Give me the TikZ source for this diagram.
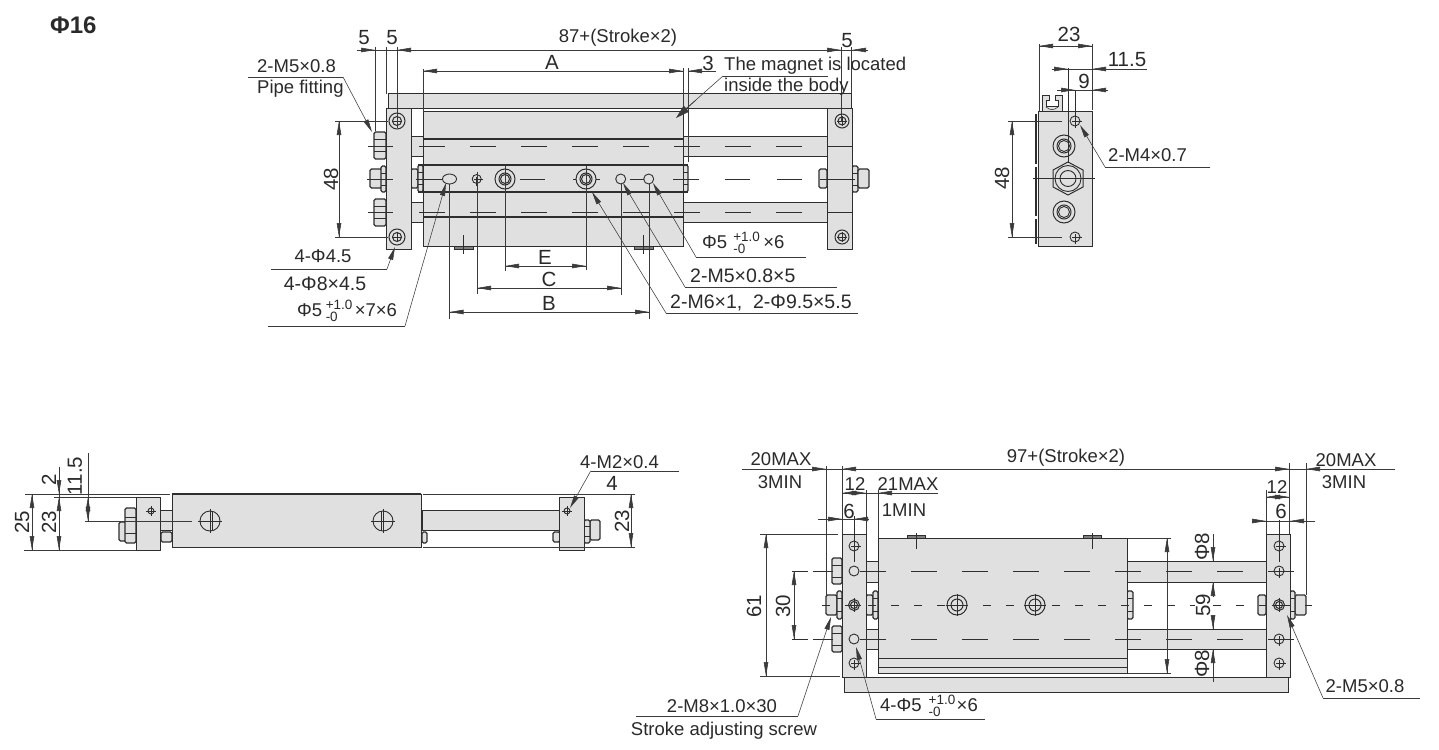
\documentclass[tikz,border=0pt]{standalone}
\usepackage{fontspec}
\setmainfont{Liberation Sans}
\usetikzlibrary{arrows.meta}
\definecolor{gf}{HTML}{DFE0DF}
\definecolor{ol}{HTML}{2E2E2E}
\definecolor{dm}{HTML}{3A3A3A}
\definecolor{tx}{HTML}{2A2A2A}
\newcommand\tolst[2]{\hspace{#1pt}\makebox[#2pt][l]{\fontsize{13.5}{14}\selectfont\rlap{\raisebox{6.5pt}{+1.0}}\raisebox{-5pt}{-0}}}
\newcommand\hcross[3]{\draw[cl] ({#1-#3},#2)--({#1+#3},#2) (#1,{#2-#3})--(#1,{#2+#3});}
\newcommand\plainhole[3]{\draw[hl] (#1,#2) circle[radius=#3pt];}
\newcommand\crosshole[3]{\draw[hl] (#1,#2) circle[radius=#3pt];\hcross{#1}{#2}{#3+2}}
\newcommand\dblhole[4]{\draw[hl,line width=1pt] (#1,#2) circle[radius=#3pt] (#1,#2) circle[radius=#4pt];}
\newcommand\hexn[4]{\draw[nut] (#1,#3) rectangle (#2,#4);\draw[cl,line width=.8pt] (#1,{#3+(#4-#3)*.27})--(#2,{#3+(#4-#3)*.27}) (#1,{#3+(#4-#3)*.73})--(#2,{#3+(#4-#3)*.73});}
\begin{document}
\begin{tikzpicture}[x=1pt,y=-1pt,
  lbl/.style={text=tx,font=\fontsize{18.5}{20}\selectfont,inner sep=0pt},
  lbw/.style={text=tx,font=\fontsize{19.5}{21}\selectfont,inner sep=0pt},
  lbn/.style={text=tx,font=\fontsize{20.5}{22}\selectfont,inner sep=0pt},
  lblr/.style={lbn,rotate=90},
  part/.style={fill=gf,draw=ol,line width=1pt},
  nut/.style={part,line width=1.1pt,rounded corners=1.5pt},
  foot/.style={fill=black!50,draw=ol,line width=.6pt},
  heavy/.style={draw=ol,line width=1.7pt},
  hl/.style={draw=ol,line width=.9pt,fill=gf},
  cl/.style={draw=ol,line width=.55pt},
  dl/.style={draw=dm,line width=.55pt},
  ar/.style={dl,-{Triangle[length=14pt,width=4.5pt]}},
  lr/.style={dl,-{Triangle[length=13pt,width=5pt]}},
  dlong/.style={cl,dash pattern=on 25.5pt off 25.5pt},
  dshort/.style={cl,dash pattern=on 8pt off 15pt}]
\useasboundingbox (0,0) rectangle (1439,749);
\fill[white] (0,0) rectangle (1439,749);
\node[lbl,font=\fontsize{24}{26}\selectfont\bfseries,anchor=west] (title) at (50,25) {Φ16};

% ===== TOP VIEW =====
\draw[part] (388,94) rectangle (851,109);
\draw[part] (411,136) rectangle (423,156);
\draw[part] (411,202) rectangle (423,222);
\draw[part] (683,136) rectangle (827,156);
\draw[part] (683,202) rectangle (827,222);
\draw[nut] (411,169) rectangle (418,188);
\hexn{374}{386}{132}{159}
\hexn{374}{386}{199}{226}
\draw[nut] (370,169) rectangle (382,188);
\hexn{381}{386}{166}{192}
\draw[nut] (819,169) rectangle (827,188);
\hexn{852}{858}{166}{192}
\draw[nut] (858,169) rectangle (869,188);
\hexn{418}{423}{165}{192}
\hexn{683}{688}{165}{192}
\draw[part] (423,112) rectangle (683,246);
\draw[heavy] (423,139)--(683,139) (418,165)--(688,165) (418,192)--(688,192) (423,217)--(683,217);
\draw[part] (386,109) rectangle (411,249);
\draw[part] (827,109) rectangle (852,249);
\draw[foot] (454,246) rectangle (473,249);
\draw[foot] (634,246) rectangle (653,249);
\draw[cl] (463,235)--(463,254) (643,235)--(643,254);
\dblhole{397}{121}{8}{4.5}\hcross{397}{121}{5}
\dblhole{397}{237}{8}{4.5}\hcross{397}{237}{5}
\dblhole{842}{121}{7}{4}\hcross{842}{121}{5}
\dblhole{842}{237}{7}{4}\hcross{842}{237}{5}
\draw[dlong] (419,146)--(806,146);
\draw[dlong] (419,212)--(806,212);
\draw[cl] (368,146)--(393,146) (368,212)--(393,212) (827,146)--(853,146) (827,212)--(853,212);
\draw[cl] (367,179)--(393,179) (416,179)--(442,179) (520,179)--(545,179) (573,179)--(600,179) (630,179)--(645,179) (673,179)--(699,179) (725,179)--(750,179) (777,179)--(802,179) (820,179)--(855,179);
\draw[hl] (449.5,179) ellipse[x radius=7pt,y radius=5pt];
\crosshole{476.7}{179}{4.5}
\dblhole{505}{179}{10}{6}\dblhole{586}{179}{10}{6}
\draw[hl,line width=1pt] (505,179) circle[radius=4.5pt] (586,179) circle[radius=4.5pt];
\plainhole{620.7}{179}{5}\plainhole{648.7}{179}{5}
% top dims
\draw[dl] (357,50)--(868,50);
\draw[ar] (357,50)--(375,50);\draw[ar] (412,50)--(397,50);
\draw[ar] (826,50)--(841,50);\draw[ar] (868,50)--(852,50);
\draw[dl] (375,47)--(375,131) (386,47)--(386,94) (397,47)--(397,128) (841,47)--(841,122) (851,47)--(851,94);
\draw[dl] (423,71)--(683,71) (423,69)--(423,112) (683,68)--(683,112) (688,68)--(688,162) (688,71)--(716,71);
\draw[ar] (438,71)--(423,71);\draw[ar] (667,71)--(683,71);\draw[ar] (703,71)--(688,71);
\node[lbl] (d87) at (618,38) {87+(Stroke×2)};
\node[lbn] (d5a) at (364,38) {5};\node[lbn] (d5b) at (392,38) {5};\node[lbn] (d5c) at (847,41) {5};
\node[lbn] (dA) at (552,62) {A};\node[lbn] (d3) at (708,63) {3};
\draw[dl] (828,76)--(723,76);
\draw[dl] (723,76)--(680,114);
\draw[dl,-{Triangle[length=14pt,width=8pt]}] (696,100)--(676,118);
\node[lbl,anchor=west] (mag1) at (724,66) {The magnet is located};
\node[lbl,anchor=west] (mag2) at (724,87) {inside the body};
\node[lbl,anchor=west] (pf1) at (257,66) {2-M5×0.8};
\node[lbl,anchor=west] (pf2) at (257,89) {Pipe fitting};
\draw[dl] (248,77)--(343,77);\draw[lr] (343,77)--(372,132);
\draw[dl] (335,121)--(388,121) (335,237)--(388,237) (339,121)--(339,237);
\draw[ar] (339,136)--(339,121);\draw[ar] (339,222)--(339,237);
\node[lblr] (d48a) at (331,179) {48};
\node[lbl] (h1) at (323,256) {4-Φ4.5};\node[lbw] (h2) at (325,284) {4-Φ8×4.5};
\draw[dl] (271,269)--(387,269);\draw[lr] (387,269)--(395,247);
\node[lbl,anchor=west] (h3) at (297,311) {Φ5\tolst{3.5}{29}×7×6};
\draw[dl] (268,326)--(405,326);\draw[lr] (405,326)--(446,183);
% E C B
\draw[dl] (505,166)--(505,271) (586,166)--(586,270) (505,266)--(586,266);
\draw[ar] (521,266)--(505,266);\draw[ar] (570,266)--(586,266);
\draw[dl] (477,172)--(477,294) (621,183)--(621,295) (477,288)--(621,288);
\draw[ar] (493,288)--(477,288);\draw[ar] (606,288)--(621,288);
\draw[dl] (449.5,184)--(449.5,319) (649,183)--(649,319) (449.5,312)--(649,312);
\draw[ar] (465,312)--(449.5,312);\draw[ar] (634,312)--(649,312);
\node[lbn] (dE) at (545,257) {E};\node[lbn] (dC) at (549,279) {C};\node[lbn] (dB) at (549,303) {B};
\node[lbl,anchor=west] (r1) at (702,243) {Φ5\tolst{6}{30}×6};
\draw[dl] (806,257)--(696,257);\draw[lr] (696,257)--(653,183);
\node[lbw,anchor=west] (r2) at (690,276) {2-M5×0.8×5};
\draw[dl] (837,287)--(685,287);\draw[lr] (685,287)--(623,183);
\node[lbw,anchor=west] (r3) at (670,303) {2-M6×1,~~2-Φ9.5×5.5};
\draw[dl] (858,313)--(666,313);\draw[lr] (666,313)--(592,192);

% ===== SIDE VIEW =====
\draw[part] (1042,112)--(1042,96)--(1049,96)--(1049,101)--(1046,101)--(1046,107)--(1058,107)--(1058,101)--(1055,101)--(1055,96)--(1062,96)--(1062,112)--cycle;
\draw[cl] (1046,107) .. controls (1050,110.5) and (1054,110.5) .. (1058,107);
\draw[part] (1038,112) rectangle (1092,246);
\draw[draw=ol,line width=1.1pt] (1036,114)--(1036,164) (1036,167)--(1036,216) (1036,219)--(1036,244);
\draw[part] (1068,162)--(1083,170)--(1083,187)--(1068,195)--(1053,187)--(1053,170)--cycle;
\draw[hl] (1068,178.5) circle[radius=13pt] (1068,178.5) circle[radius=8pt];
\dblhole{1064}{146}{11}{7}\draw[hl] (1064,146) circle[radius=5.5pt];
\dblhole{1064}{212}{11}{7}\draw[hl] (1064,212) circle[radius=5.5pt];
\crosshole{1075}{121}{5}\crosshole{1075}{237}{5}
\draw[cl] (1033,178)--(1095,178) (1068,68)--(1068,163) (1075,90)--(1075,127);
\draw[dl] (1039,44)--(1039,112) (1092,44)--(1092,110) (1039,46)--(1092,46);
\draw[ar] (1054,46)--(1039,46);\draw[ar] (1077,46)--(1092,46);
\draw[dl] (1052,69)--(1147,69) (1057,90)--(1108,90);
\draw[ar] (1052,69)--(1068,69);\draw[ar] (1108,69)--(1092,69);
\draw[ar] (1057,90)--(1075,90);\draw[ar] (1108,90)--(1092,90);
\node[lbn] (s23) at (1069,34) {23};\node[lbn] (s115) at (1127,60) {11.5};\node[lbn] (s9) at (1084,81) {9};
\draw[dl] (1008,121)--(1062,121) (1008,237)--(1062,237) (1012,121)--(1012,237);
\draw[ar] (1012,136)--(1012,121);\draw[ar] (1012,222)--(1012,237);
\node[lblr] (s48) at (1002,178) {48};
\node[lbl,anchor=west] (s4m) at (1108,155) {2-M4×0.7};
\draw[dl] (1210,167)--(1105,167);\draw[lr] (1105,167)--(1080,125);

% ===== BOTTOM LEFT VIEW =====
\draw[part] (160,510) rectangle (172,530);
\draw[nut] (161,532) rectangle (172,542);
\draw[part] (422,510) rectangle (560,530);
\draw[nut] (422,532) rectangle (427,543);
\draw[nut] (553,532) rectangle (560,542);
\draw[nut] (119,522) rectangle (126,541);
\hexn{125}{136}{508}{543}
\draw[nut] (590,520) rectangle (600,540);
\hexn{584}{590}{520}{543}
\draw[part] (172,494) rectangle (421,547);
\draw[heavy] (172,494)--(421,494);
\draw[part] (136,497) rectangle (160,550);
\draw[part] (559,497) rectangle (584,550);
\draw[hl] (151,511) circle[radius=3pt];\hcross{151}{511}{5}
\draw[hl] (567,511) circle[radius=3pt];\hcross{567}{511}{5}
\draw[hl] (210,521) circle[radius=10pt];\hcross{210}{521}{12}
\draw[cl] (212,511)--(212,531);
\draw[hl] (383,521) circle[radius=10pt];\hcross{383}{521}{12}
\draw[cl] (381,511)--(381,531);
\draw[dl] (85,521)--(192,521);
\draw[dl] (25,494)--(170,494) (24,550)--(136,550) (54,497)--(136,497) (423,494)--(635,494) (423,547)--(635,547);
\draw[dl] (32,494)--(32,550) (59,467)--(59,550) (88,453)--(88,521) (631,494)--(631,547);
\draw[ar] (32,509)--(32,494);\draw[ar] (32,535)--(32,550);
\draw[ar] (59,512)--(59,497);\draw[ar] (59,535)--(59,550);
\draw[ar] (59,481)--(59,494);
\draw[ar] (88,510)--(88,497);\draw[ar] (88,508)--(88,521);
\draw[ar] (631,509)--(631,494);\draw[ar] (631,532)--(631,547);
\node[lblr] (b25) at (22,522) {25};\node[lblr] (b23) at (49,522) {23};\node[lblr] (b2) at (49,480) {2};
\node[lblr] (b115) at (75,476) {11.5};\node[lblr] (b23r) at (622,521) {23};
\node[lbl,anchor=west] (bm2) at (580,462) {4-M2×0.4};\node[lbn] (b4) at (612,483) {4};
\draw[dl] (679,471)--(590.7,471);\draw[lr] (590.7,471)--(570,508);

% ===== BOTTOM RIGHT VIEW =====
\draw[part] (844,677) rectangle (1288,692);
\draw[part] (866,561) rectangle (878,582);
\draw[part] (866,629) rectangle (878,649);
\draw[part] (1127,561) rectangle (1266,582);
\draw[part] (1127,629) rectangle (1266,649);
\draw[nut] (866,595) rectangle (873,615);
\hexn{873}{878}{591}{619}
\hexn{1127}{1133}{591}{619}
\draw[nut] (1258,595) rectangle (1266,615);
\hexn{832}{842}{558}{584}
\hexn{832}{842}{626}{652}
\draw[nut] (826,595) rectangle (837,615);
\hexn{837}{842}{591}{619}
\draw[nut] (1295,595) rectangle (1306,615);
\hexn{1290}{1295}{591}{619}
\draw[foot] (907,535) rectangle (925,538);\draw[foot] (1083,535) rectangle (1101,538);
\draw[part] (878,538) rectangle (1127,673);
\draw[draw=ol,line width=1pt] (878,658)--(1127,658) (878,667)--(1127,667);
\draw[cl] (916,533)--(916,549) (1092,533)--(1092,549);
\draw[part] (842,534) rectangle (866,677);
\draw[part] (1266,534) rectangle (1290,677);
\crosshole{854}{546}{5}\plainhole{854}{571}{5}\plainhole{854}{639}{5}\crosshole{854}{663}{5}
\dblhole{854}{605}{5.5}{3.5}\hcross{854}{605}{7}
\crosshole{1279}{546}{5}\crosshole{1279}{571}{5}\crosshole{1279}{639}{5}\crosshole{1279}{663}{5}
\dblhole{1279}{605}{5.5}{3.5}\hcross{1279}{605}{7}
\dblhole{957}{605}{10}{6}\hcross{957}{605}{11}\dblhole{1035}{605}{10}{6}\hcross{1035}{605}{11}
\draw[dlong] (860,571)--(1296,571);\draw[dlong] (860,639)--(1296,639);
\draw[cl] (792,571)--(808,571) (813,571)--(833,571) (792,639)--(808,639) (813,639)--(833,639);
\draw[dshort] (822,605)--(1312,605);
\draw[cl] (854,516)--(854,562) (1279,520)--(1279,562);
\draw[dl] (742,469)--(1395,469);
\draw[ar] (812,469)--(826,469);\draw[ar] (857,469)--(842,469);
\draw[ar] (1274,469)--(1289,469);\draw[ar] (1320,469)--(1306,469);
\draw[dl] (826,466)--(826,595) (842,466)--(842,534) (1289,463)--(1289,534) (1306,463)--(1306,595);
\node[lbl] (d97) at (1066,458) {97+(Stroke×2)};
\node[lbl] (m20l) at (781,459) {20MAX};\node[lbl] (m3l) at (780,482) {3MIN};
\node[lbl] (m20r) at (1346,460) {20MAX};\node[lbl] (m3r) at (1344,482) {3MIN};
\draw[dl] (842,493)--(938,493) (866,490)--(866,534) (878,490)--(878,538);
\draw[ar] (856,493)--(842,493);\draw[ar] (852,493)--(866,493);\draw[ar] (893,493)--(878,493);
\node[lbl] (d12l) at (855,484) {12};\node[lbl] (d21) at (908,484) {21MAX};\node[lbl] (d1m) at (904,510) {1MIN};
\draw[dl] (818,519)--(869,519);
\draw[ar] (827,519)--(842,519);\draw[ar] (868,519)--(854,519);
\node[lbn] (d6l) at (849,511) {6};
\draw[dl] (1266,490)--(1266,534) (1266,497)--(1289,497) (1253,521)--(1315,521);
\draw[ar] (1275,497)--(1289,497);\draw[ar] (1280,497)--(1266,497);
\draw[ar] (1253,521)--(1266,521);\draw[ar] (1305,521)--(1290,521);
\node[lbl] (d12r) at (1277,487) {12};\node[lbn] (d6r) at (1281,511) {6};
\draw[dl] (760,534)--(838,534) (760,676)--(840,676) (766,534)--(766,676) (794,571)--(794,639);
\draw[ar] (766,549)--(766,534);\draw[ar] (766,661)--(766,676);
\draw[ar] (794,586)--(794,571);\draw[ar] (794,624)--(794,639);
\node[lblr] (d61) at (754,606) {61};\node[lblr] (d30) at (783,606) {30};
\draw[dl] (1128,538)--(1171,538) (1128,673)--(1171,673) (1167,538)--(1167,673);
\draw[ar] (1167,553)--(1167,538);\draw[ar] (1167,658)--(1167,673);
\node[lblr,fill=white,inner sep=1pt] (d59) at (1203,605) {59};
\draw[dl] (1213,534)--(1213,561) (1213,582)--(1213,597) (1213,615)--(1213,629) (1213,649)--(1213,682);
\draw[ar] (1213,547)--(1213,561);\draw[ar] (1213,597)--(1213,582);
\draw[ar] (1213,615)--(1213,629);\draw[ar] (1213,664)--(1213,649);
\node[lblr] (p8a) at (1202,547) {Φ8};\node[lblr] (p8b) at (1202,664) {Φ8};
\draw[dl] (636,716)--(798,716);\draw[lr] (798,716)--(831,617);
\node[lbl] (sa1) at (722,706) {2-M8×1.0×30};\node[lbl] (sa2) at (724,731) {Stroke adjusting screw};
\draw[dl] (876,719)--(985,719);\draw[lr] (876,719)--(856,647);
\node[lbl,anchor=west] (f1) at (880,706) {4-Φ5\tolst{7}{28}×6};
\draw[dl] (1420,698)--(1323,698);\draw[lr] (1323,698)--(1287,615);
\node[lbl] (f2) at (1365,686) {2-M5×0.8};
\end{tikzpicture}
\end{document}
